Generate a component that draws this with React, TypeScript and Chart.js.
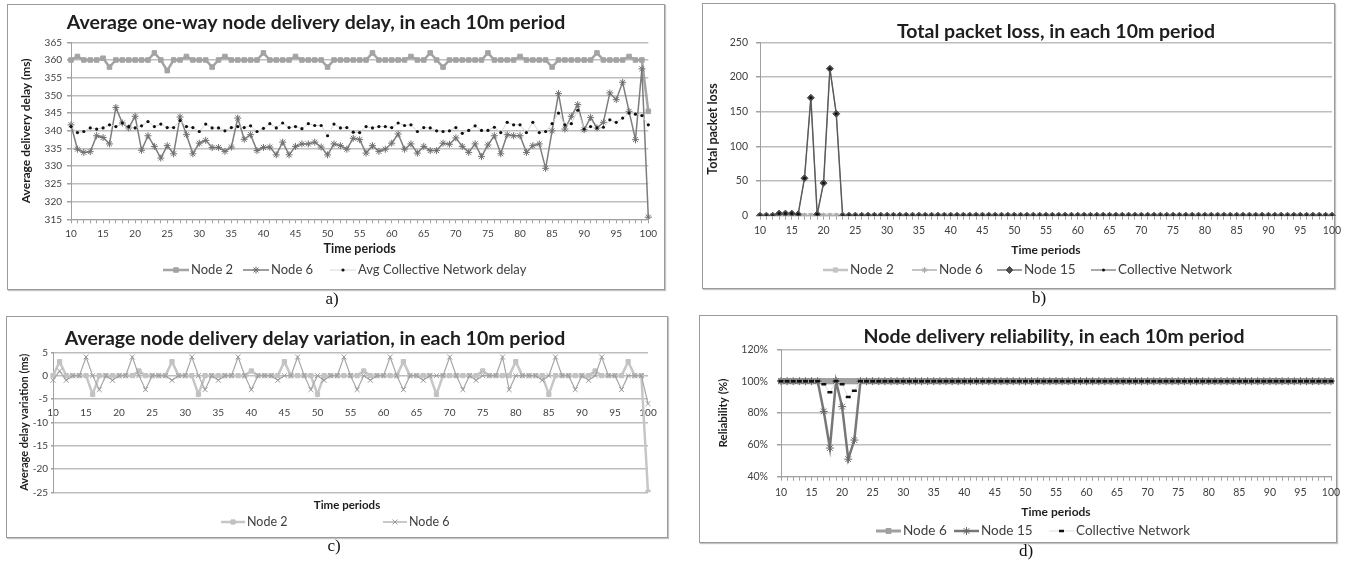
import React, { useEffect, useRef } from 'react';
import { Chart, registerables } from 'chart.js';
import { drawPoint } from 'chart.js/helpers';

Chart.register(...registerables);

// ---------------- DATA ----------------
const periods = [
  '10', '11', '12', '13', '14', '15', '16', '17', '18', '19',
  '20', '21', '22', '23', '24', '25', '26', '27', '28', '29',
  '30', '31', '32', '33', '34', '35', '36', '37', '38', '39',
  '40', '41', '42', '43', '44', '45', '46', '47', '48', '49',
  '50', '51', '52', '53', '54', '55', '56', '57', '58', '59',
  '60', '61', '62', '63', '64', '65', '66', '67', '68', '69',
  '70', '71', '72', '73', '74', '75', '76', '77', '78', '79',
  '80', '81', '82', '83', '84', '85', '86', '87', '88', '89',
  '90', '91', '92', '93', '94', '95', '96', '97', '98', '99',
  '100',
];

// a) Average one-way node delivery delay (ms)
const node2Delay = [
  360, 361, 360, 360, 360, 360.5, 358, 360, 360, 360,
  360, 360, 360, 362, 360, 357, 360, 360, 361, 360,
  360, 360, 358, 360, 361, 360, 360, 360, 360, 360,
  362, 360, 360, 360, 360, 361, 360, 360, 360, 360,
  358, 360, 360, 360, 360, 360, 360, 362, 360, 360,
  360, 360, 360, 361, 360, 360, 362, 360, 358, 360,
  360, 360, 360, 360, 360, 362, 360, 360, 360, 360,
  361, 360, 360, 360, 360, 358, 360, 360, 360, 360,
  360, 360, 362, 360, 360, 360, 360, 361, 360, 360,
  345.5,
];
const node6Delay = [
  341.7, 334.8, 333.9, 334.1, 338.6, 338.1, 336.3, 346.6, 342.2, 340.8,
  344.1, 334.5, 338.6, 335.6, 332.3, 335.8, 333.5, 343.9, 338.9, 333.5,
  336.5, 337.3, 335.3, 335.3, 334.2, 335.4, 343.6, 337.6, 338.9, 334.4,
  335.3, 335.4, 333.2, 336.8, 333.2, 335.6, 336.3, 336.3, 336.8, 335.4,
  333.2, 336.3, 335.8, 334.8, 337.9, 337.5, 333.7, 335.8, 334.2, 334.8,
  336.5, 339.1, 334.8, 336.3, 333.7, 335.6, 334.4, 334.4, 336.5, 336.2,
  338.0, 335.6, 333.9, 336.3, 332.7, 336.0, 338.6, 333.5, 338.9, 338.6,
  338.6, 333.9, 335.8, 336.3, 329.4, 340.0, 350.5, 340.5, 344.1, 347.4,
  340.3, 343.8, 340.8, 342.4, 350.7, 348.8, 353.7, 345.5, 337.5, 357.5,
  315.6,
];
const avgDelay = [
  341.2, 339.5, 339.8, 340.8, 340.5, 340.8, 341.7, 341.2, 342.2, 341.2,
  340.8, 341.4, 342.6, 341.2, 341.9, 340.9, 340.9, 342.9, 341.2, 340.9,
  339.8, 341.9, 340.8, 340.8, 340.0, 340.9, 341.2, 340.9, 341.4, 339.8,
  340.7, 342.0, 340.8, 342.2, 340.9, 341.2, 340.6, 342.0, 341.5, 341.5,
  338.6, 341.9, 340.8, 340.9, 339.6, 339.5, 341.2, 340.8, 341.2, 341.2,
  340.9, 342.2, 341.5, 341.7, 339.8, 340.9, 340.8, 340.0, 339.8, 340.0,
  340.9, 339.3, 340.1, 341.4, 340.1, 340.1, 341.0, 339.5, 342.4, 341.7,
  341.7, 339.5, 342.4, 339.5, 339.8, 342.0, 345.0, 341.7, 342.0, 345.8,
  340.5, 341.2, 340.8, 341.0, 343.1, 342.4, 343.6, 345.0, 344.7, 344.3,
  341.7,
];
const delayTicks = { min: 315, max: 365, step: 5 };

// b) Total packet loss
const node2Loss = [
  0, 0, 0, 0, 0, 0, 0, 0, 0, 0,
  0, 0, 0, 0, 0, 0, 0, 0, 0, 0,
  0, 0, 0, 0, 0, 0, 0, 0, 0, 0,
  0, 0, 0, 0, 0, 0, 0, 0, 0, 0,
  0, 0, 0, 0, 0, 0, 0, 0, 0, 0,
  0, 0, 0, 0, 0, 0, 0, 0, 0, 0,
  0, 0, 0, 0, 0, 0, 0, 0, 0, 0,
  0, 0, 0, 0, 0, 0, 0, 0, 0, 0,
  0, 0, 0, 0, 0, 0, 0, 0, 0, 0,
  0,
];
const node6Loss = [
  0, 0, 0, 0, 0, 0, 0, 0, 0, 0,
  0, 0, 0, 0, 0, 0, 0, 0, 0, 0,
  0, 0, 0, 0, 0, 0, 0, 0, 0, 0,
  0, 0, 0, 0, 0, 0, 0, 0, 0, 0,
  0, 0, 0, 0, 0, 0, 0, 0, 0, 0,
  0, 0, 0, 0, 0, 0, 0, 0, 0, 0,
  0, 0, 0, 0, 0, 0, 0, 0, 0, 0,
  0, 0, 0, 0, 0, 0, 0, 0, 0, 0,
  0, 0, 0, 0, 0, 0, 0, 0, 0, 0,
  0,
];
const node15Loss = [
  0, 0, 0, 3, 3, 3, 2, 54, 170, 2,
  47, 212, 147, 0, 0, 0, 0, 0, 0, 0,
  0, 0, 0, 0, 0, 0, 0, 0, 0, 0,
  0, 0, 0, 0, 0, 0, 0, 0, 0, 0,
  0, 0, 0, 0, 0, 0, 0, 0, 0, 0,
  0, 0, 0, 0, 0, 0, 0, 0, 0, 0,
  0, 0, 0, 0, 0, 0, 0, 0, 0, 0,
  0, 0, 0, 0, 0, 0, 0, 0, 0, 0,
  0, 0, 0, 0, 0, 0, 0, 0, 0, 0,
  0,
];
const collectiveLoss = [
  0, 0, 0, 3, 3, 3, 2, 54, 170, 2,
  47, 212, 147, 0, 0, 0, 0, 0, 0, 0,
  0, 0, 0, 0, 0, 0, 0, 0, 0, 0,
  0, 0, 0, 0, 0, 0, 0, 0, 0, 0,
  0, 0, 0, 0, 0, 0, 0, 0, 0, 0,
  0, 0, 0, 0, 0, 0, 0, 0, 0, 0,
  0, 0, 0, 0, 0, 0, 0, 0, 0, 0,
  0, 0, 0, 0, 0, 0, 0, 0, 0, 0,
  0, 0, 0, 0, 0, 0, 0, 0, 0, 0,
  0,
];
const lossTicks = { min: 0, max: 250, step: 50 };

// c) Average node delivery delay variation (ms)
const node2Var = [
  0, 3, 0, 0, 0, 0, -4, 0, 0, 0,
  0, 0, 0, 1, 0, 0, 0, 0, 3, 0,
  0, 0, -4, 0, 0, 0, 0, 0, 0, 0,
  1, 0, 0, 0, 0, 3, 0, 0, 0, 0,
  -4, 0, 0, 0, 0, 0, 0, 1, 0, 0,
  0, 0, 0, 3, 0, 0, 0, 0, -4, 0,
  0, 0, 0, 0, 0, 1, 0, 0, 0, 0,
  3, 0, 0, 0, 0, -4, 0, 0, 0, 0,
  0, 0, 1, 0, 0, 0, 0, 3, 0, 0,
  -25,
];
const node6Var = [
  -1, 1, -1, 0, 0, 4, 0, -3, 0, -1,
  0, 0, 4, 0, -3, 0, 0, 0, -1, 0,
  0, 4, 0, -3, 0, -1, 0, 0, 4, 0,
  -3, 0, 0, 0, -1, 0, 0, 4, 0, -3,
  0, -1, 0, 0, 4, 0, -3, 0, -1, 0,
  0, 4, 0, -3, 0, 0, -1, 0, 0, 0,
  4, 0, -3, 0, -1, 0, 0, 0, 4, -3,
  0, 0, 0, 0, -1, 0, 4, 0, 0, -3,
  0, -1, 0, 4, 0, 0, -3, 0, 0, 0,
  -6,
];
const varTicks = { min: -25, max: 5, step: 5 };

// d) Node delivery reliability (%)
const node6Rel = [
  100, 100, 100, 100, 100, 100, 100, 100, 100, 100,
  100, 100, 100, 100, 100, 100, 100, 100, 100, 100,
  100, 100, 100, 100, 100, 100, 100, 100, 100, 100,
  100, 100, 100, 100, 100, 100, 100, 100, 100, 100,
  100, 100, 100, 100, 100, 100, 100, 100, 100, 100,
  100, 100, 100, 100, 100, 100, 100, 100, 100, 100,
  100, 100, 100, 100, 100, 100, 100, 100, 100, 100,
  100, 100, 100, 100, 100, 100, 100, 100, 100, 100,
  100, 100, 100, 100, 100, 100, 100, 100, 100, 100,
  100,
];
const node15Rel = [
  100, 100, 100, 100, 100, 100, 100, 81, 58, 100,
  84, 51, 63, 100, 100, 100, 100, 100, 100, 100,
  100, 100, 100, 100, 100, 100, 100, 100, 100, 100,
  100, 100, 100, 100, 100, 100, 100, 100, 100, 100,
  100, 100, 100, 100, 100, 100, 100, 100, 100, 100,
  100, 100, 100, 100, 100, 100, 100, 100, 100, 100,
  100, 100, 100, 100, 100, 100, 100, 100, 100, 100,
  100, 100, 100, 100, 100, 100, 100, 100, 100, 100,
  100, 100, 100, 100, 100, 100, 100, 100, 100, 100,
  100,
];
const collectiveRel = [
  100, 100, 100, 100, 100, 100, 100, 98, 93, 100,
  98, 90, 94, 100, 100, 100, 100, 100, 100, 100,
  100, 100, 100, 100, 100, 100, 100, 100, 100, 100,
  100, 100, 100, 100, 100, 100, 100, 100, 100, 100,
  100, 100, 100, 100, 100, 100, 100, 100, 100, 100,
  100, 100, 100, 100, 100, 100, 100, 100, 100, 100,
  100, 100, 100, 100, 100, 100, 100, 100, 100, 100,
  100, 100, 100, 100, 100, 100, 100, 100, 100, 100,
  100, 100, 100, 100, 100, 100, 100, 100, 100, 100,
  100,
];
const relTicks = { min: 40, max: 120, step: 20 };

// ---------------- LAYOUT / STYLE ----------------
const FONT = 'Lato, "Open Sans", sans-serif';
const EXT = 14;
const TICK_COLOR = '#404040';
const AXIS_COLOR = '#a0a0a0';
const GRID_COLOR = '#bdbdbd';
const TITLE_FONT = `bold 19.5px ${FONT}`;

type Box = { x: number; y: number; w: number; h: number };
type Plot = { l: number; t: number; r: number; b: number };

const decor = {
  id: 'decor',
  afterDraw(chart: any, _args: any, opts: any) {
    const ctx = chart.ctx;
    ctx.save();
    ctx.textBaseline = 'middle';
    (opts.texts || []).forEach((t: any) => {
      ctx.font = t.font;
      ctx.fillStyle = t.color || '#1e1e1e';
      ctx.textAlign = t.align || 'center';
      ctx.fillText(t.text, t.x, t.y);
    });
    const lg = opts.legend;
    if (lg) {
      chart.data.datasets.forEach((ds: any, i: number) => {
        const x0 = lg.xs[i];
        const y = lg.y;
        ctx.strokeStyle = ds.borderColor;
        ctx.lineWidth = Math.min(ds.borderWidth, lg.maxLine || 3);
        ctx.beginPath();
        ctx.moveTo(x0, y);
        ctx.lineTo(x0 + lg.len, y);
        ctx.stroke();
        ctx.fillStyle = ds.pointBackgroundColor;
        ctx.strokeStyle = ds.pointBorderColor;
        ctx.lineWidth = ds.pointBorderWidth;
        drawPoint(
          ctx,
          { pointStyle: ds.pointStyle, radius: ds.pointRadius, rotation: 0, borderWidth: ds.pointBorderWidth } as any,
          x0 + lg.len / 2,
          y
        );
        ctx.font = lg.font;
        ctx.fillStyle = '#404040';
        ctx.textAlign = 'left';
        ctx.fillText(ds.label, x0 + lg.len + 2, y);
      });
    }
    ctx.restore();
  },
};

function fiveLabel(this: any, val: any) {
  const l = this.getLabelForValue(val);
  return Number(l) % 5 === 0 ? l : '';
}

function xAxis(box: Box, plot: Plot, o: any) {
  return {
    type: 'category',
    offset: false,
    afterFit: (s: any) => {
      s.height = box.h - (plot.b - box.y);
    },
    grid: { display: true, drawOnChartArea: false, drawTicks: true, tickLength: 4, tickColor: AXIS_COLOR },
    border: { display: true, color: AXIS_COLOR, width: 1 },
    ticks: {
      autoSkip: false,
      maxRotation: 0,
      minRotation: 0,
      padding: o.tickPad,
      font: { family: FONT, size: o.tickSize },
      color: TICK_COLOR,
      callback: fiveLabel,
    },
    title: {
      display: true,
      text: 'Time periods',
      color: '#1e1e1e',
      font: { family: FONT, size: o.titleSize, weight: 'bold' },
      padding: { top: 0, bottom: o.titleBottom },
    },
  };
}

function yAxis(box: Box, plot: Plot, o: any) {
  return {
    type: 'linear',
    min: o.ticks.min,
    max: o.ticks.max,
    afterFit: (s: any) => {
      s.width = plot.l - box.x;
    },
    grid: { color: GRID_COLOR, lineWidth: 1.5, drawTicks: true, tickLength: 4, tickColor: AXIS_COLOR },
    border: { display: true, color: AXIS_COLOR, width: 1 },
    ticks: {
      stepSize: o.ticks.step,
      padding: o.tickPad,
      font: { family: FONT, size: o.tickSize },
      color: TICK_COLOR,
      callback: o.fmt || ((v: any) => String(v)),
    },
    title: {
      display: true,
      text: o.title,
      color: '#1e1e1e',
      font: { family: FONT, size: o.titleSize, weight: 'bold' },
      padding: { top: o.titleLeft, bottom: 0 },
    },
  };
}

function baseOptions(box: Box, plot: Plot, padBottom: number, decorOpts: any, scales: any) {
  const W = box.w + EXT;
  return {
    responsive: false,
    maintainAspectRatio: false,
    animation: false,
    events: [],
    layout: {
      padding: { left: 0, top: plot.t - box.y, right: W - (plot.r - box.x), bottom: padBottom },
    },
    elements: { line: { tension: 0 } },
    plugins: {
      legend: { display: false },
      title: { display: false },
      tooltip: { enabled: false },
      decor: decorOpts,
    },
    scales,
  };
}

// ---------------- CHART CONFIGS ----------------
const boxA: Box = { x: 7, y: 4, w: 658, h: 286 };
const plotA: Plot = { l: 71, t: 42.3, r: 648.3, b: 219.3 };
function buildA() {
  const box = boxA, plot = plotA;
  return {
    type: 'line',
    data: {
      labels: periods,
      datasets: [
        { label: 'Node 2', data: node2Delay, borderColor: '#a3a3a3', borderWidth: 2.5, pointStyle: 'rect', pointRadius: 3.2, pointBackgroundColor: '#a3a3a3', pointBorderColor: '#a3a3a3', pointBorderWidth: 1, order: 3 },
        { label: 'Node 6', data: node6Delay, borderColor: '#7d7d7d', borderWidth: 1.5, pointStyle: 'star', pointRadius: 3.5, pointBackgroundColor: '#707070', pointBorderColor: '#707070', pointBorderWidth: 1, order: 2 },
        { label: 'Avg Collective Network delay', data: avgDelay, borderColor: '#d6d6d6', borderWidth: 1, pointStyle: 'circle', pointRadius: 1.6, pointBackgroundColor: '#111', pointBorderColor: '#111', pointBorderWidth: 0, order: 1 },
      ],
    },
    options: baseOptions(box, plot, 0, {
      texts: [{ text: 'Average one-way node delivery delay, in each 10m period', x: 316 - box.x, y: 23 - box.y, font: TITLE_FONT }],
      legend: { y: 270 - box.y, xs: [163 - box.x, 243 - box.x, 330 - box.x], len: 26, font: `13px ${FONT}` },
    }, {
      x: xAxis(box, plot, { tickPad: 4, tickSize: 10, titleSize: 12.5, titleBottom: 34 }),
      y: yAxis(box, plot, { ticks: delayTicks, tickPad: 5, tickSize: 10, title: 'Average delivery delay (ms)', titleSize: 12, titleLeft: 12 }),
    }),
    plugins: [decor],
  };
}

const boxB: Box = { x: 702, y: 3, w: 633, h: 286 };
const plotB: Plot = { l: 760, t: 42.3, r: 1332, b: 215.7 };
function buildB() {
  const box = boxB, plot = plotB;
  return {
    type: 'line',
    data: {
      labels: periods,
      datasets: [
        { label: 'Node 2', data: node2Loss, borderColor: '#c4c4c4', borderWidth: 2.5, pointStyle: 'rect', pointRadius: 3, pointBackgroundColor: '#c4c4c4', pointBorderColor: '#c4c4c4', pointBorderWidth: 1, order: 4 },
        { label: 'Node 6', data: node6Loss, borderColor: '#b0b0b0', borderWidth: 1.5, pointStyle: 'star', pointRadius: 3, pointBackgroundColor: '#a8a8a8', pointBorderColor: '#a8a8a8', pointBorderWidth: 1, order: 3 },
        { label: 'Node 15', data: node15Loss, borderColor: '#7f7f7f', borderWidth: 1.5, pointStyle: 'rectRot', pointRadius: 3.5, pointBackgroundColor: '#4d4d4d', pointBorderColor: '#4d4d4d', pointBorderWidth: 1, order: 2 },
        { label: 'Collective Network', data: collectiveLoss, borderColor: '#555555', borderWidth: 1, pointStyle: 'circle', pointRadius: 1.5, pointBackgroundColor: '#111', pointBorderColor: '#111', pointBorderWidth: 0, order: 1 },
      ],
    },
    options: baseOptions(box, plot, 0, {
      texts: [{ text: 'Total packet loss, in each 10m period', x: 1056 - box.x, y: 32 - box.y, font: TITLE_FONT }],
      legend: { y: 270 - box.y, xs: [823 - box.x, 912 - box.x, 997 - box.x, 1091 - box.x], len: 25, font: `13.5px ${FONT}` },
    }, {
      x: xAxis(box, plot, { tickPad: 5, tickSize: 10.5, titleSize: 12, titleBottom: 32 }),
      y: yAxis(box, plot, { ticks: lossTicks, tickPad: 8, tickSize: 10.5, title: 'Total packet loss', titleSize: 12.5, titleLeft: 3 }),
    }),
    plugins: [decor],
  };
}

const boxC: Box = { x: 6, y: 316, w: 662, h: 222 };
const plotC: Plot = { l: 53, t: 352.3, r: 648, b: 492.3 };
function buildC() {
  const box = boxC, plot = plotC;
  const y = yAxis(box, plot, { ticks: varTicks, tickPad: 3, tickSize: 10, title: 'Average delay variation (ms)', titleSize: 11, titleLeft: 12 });
  y.grid.tickLength = 2;
  return {
    type: 'line',
    data: {
      labels: periods,
      datasets: [
        { label: 'Node 2', data: node2Var, borderColor: '#c6c6c6', borderWidth: 2.5, pointStyle: 'rect', pointRadius: 3, pointBackgroundColor: '#c2c2c2', pointBorderColor: '#c2c2c2', pointBorderWidth: 1, order: 2 },
        { label: 'Node 6', data: node6Var, borderColor: '#a6a6a6', borderWidth: 1.2, pointStyle: 'crossRot', pointRadius: 3.5, pointBackgroundColor: '#999', pointBorderColor: '#999', pointBorderWidth: 1, order: 1 },
      ],
    },
    options: baseOptions(box, plot, box.h - (plot.b - box.y), {
      texts: [
        { text: 'Average node delivery delay variation, in each 10m period', x: 315 - box.x, y: 339 - box.y, font: TITLE_FONT },
        { text: 'Time periods', x: 347 - box.x, y: 505 - box.y, font: `bold 11.5px ${FONT}` },
      ],
      legend: { y: 522 - box.y, xs: [221 - box.x, 383 - box.x], len: 24, font: `12.5px ${FONT}` },
    }, {
      x: {
        type: 'category',
        offset: false,
        position: { y: -5 },
        grid: { display: true, drawOnChartArea: false, drawTicks: true, tickLength: 3, tickColor: 'rgba(0,0,0,0)' },
        border: { display: false },
        ticks: { autoSkip: false, maxRotation: 0, minRotation: 0, padding: 5, font: { family: FONT, size: 10 }, color: TICK_COLOR, callback: fiveLabel },
      },
      y,
    }),
    plugins: [decor],
  };
}

const boxD: Box = { x: 699, y: 315, w: 638, h: 228 };
const plotD: Plot = { l: 781, t: 349.3, r: 1331, b: 476.7 };
function buildD() {
  const box = boxD, plot = plotD;
  return {
    type: 'line',
    data: {
      labels: periods,
      datasets: [
        { label: 'Node 6', data: node6Rel, borderColor: '#a0a0a0', borderWidth: 6, pointStyle: 'rect', pointRadius: 3.5, pointBackgroundColor: '#a0a0a0', pointBorderColor: '#a0a0a0', pointBorderWidth: 1, order: 3 },
        { label: 'Node 15', data: node15Rel, borderColor: '#777777', borderWidth: 2.5, pointStyle: 'star', pointRadius: 4, pointBackgroundColor: '#666', pointBorderColor: '#666', pointBorderWidth: 1, order: 2 },
        { label: 'Collective Network', data: collectiveRel, borderColor: '#dedede', borderWidth: 1, pointStyle: 'line', pointRadius: 2.5, pointBackgroundColor: '#111', pointBorderColor: '#111', pointBorderWidth: 2.5, order: 1 },
      ],
    },
    options: baseOptions(box, plot, 0, {
      texts: [{ text: 'Node delivery reliability, in each 10m period', x: 1054 - box.x, y: 337 - box.y, font: TITLE_FONT }],
      legend: { y: 531 - box.y, xs: [876 - box.x, 954 - box.x, 1049 - box.x], len: 25, font: `13.5px ${FONT}` },
    }, {
      x: xAxis(box, plot, { tickPad: 6, tickSize: 10.5, titleSize: 12, titleBottom: 24 }),
      y: yAxis(box, plot, { ticks: relTicks, tickPad: 9, tickSize: 10.5, title: 'Reliability (%)', titleSize: 11.5, titleLeft: 17, fmt: (v: any) => v + '%' }),
    }),
    plugins: [decor],
  };
}

// ---------------- COMPONENTS ----------------
function ChartBox({ box, build }: { box: Box; build: () => any }) {
  const ref = useRef<HTMLCanvasElement>(null);
  useEffect(() => {
    const chart = new Chart(ref.current as HTMLCanvasElement, build());
    return () => chart.destroy();
  }, []);
  return (
    <div style={{ position: 'absolute', left: box.x, top: box.y, width: box.w, height: box.h }}>
      <div
        style={{
          position: 'absolute',
          left: 0,
          top: 0,
          width: box.w,
          height: box.h,
          boxSizing: 'border-box',
          border: '1px solid #9a9a9a',
          boxShadow: '1px 1px 1px #c4c4c4',
          background: '#fff',
        }}
      />
      <canvas
        ref={ref}
        width={box.w + EXT}
        height={box.h}
        style={{ position: 'absolute', left: 0, top: 0, width: box.w + EXT, height: box.h, display: 'block' }}
      />
    </div>
  );
}

const captionStyle = (x: number, y: number): React.CSSProperties => ({
  position: 'absolute',
  left: x,
  top: y,
  transform: 'translate(-50%, -50%)',
  fontFamily: '"Liberation Serif", "Times New Roman", serif',
  fontSize: 17,
  color: '#111',
  lineHeight: 1,
  whiteSpace: 'nowrap',
});

export default function App() {
  return (
    <div style={{ position: 'absolute', left: 0, top: 0, width: 1351, height: 567, background: '#fff', overflow: 'hidden' }}>
      <ChartBox box={boxA} build={buildA} />
      <ChartBox box={boxB} build={buildB} />
      <ChartBox box={boxC} build={buildC} />
      <ChartBox box={boxD} build={buildD} />
      <div style={captionStyle(332, 298)}>a)</div>
      <div style={captionStyle(1039, 297)}>b)</div>
      <div style={captionStyle(334, 545)}>c)</div>
      <div style={captionStyle(1026, 550)}>d)</div>
    </div>
  );
}
